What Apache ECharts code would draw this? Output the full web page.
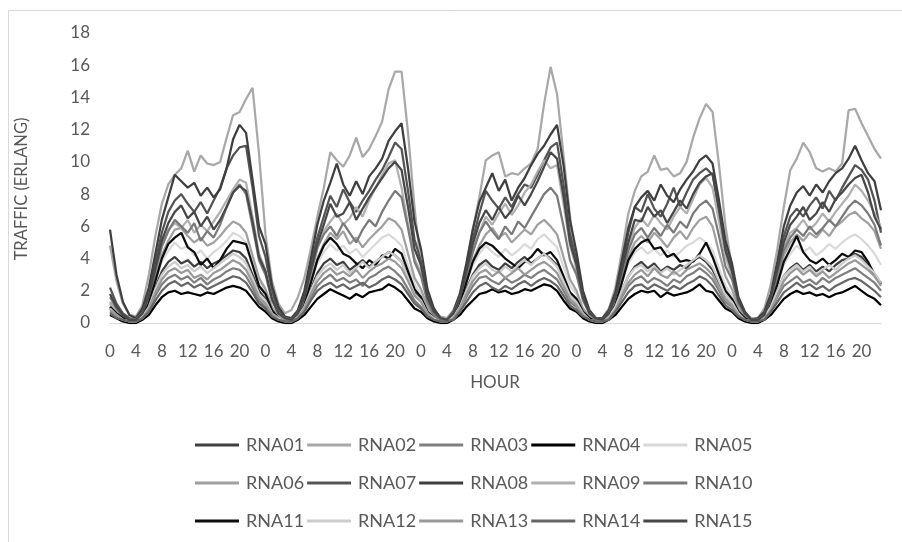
<!DOCTYPE html>
<html>
<head>
<meta charset="utf-8">
<script src="https://cdn.jsdelivr.net/npm/echarts@6/dist/echarts.min.js"></script>
<style>html,body{margin:0;padding:0;background:#fff;}#c{width:902px;height:542px;}</style>
</head>
<body>
<div id="c"></div>
<script>
// Tick labels / categories
const hourLabels = [0,1,2,3,4,5,6,7,8,9,10,11,12,13,14,15,16,17,18,19,20,21,22,23];
const days = [1,2,3,4,5];
const yTicks = [0,2,4,6,8,10,12,14,16,18];
const seriesNames = ['RNA01','RNA02','RNA03','RNA04','RNA05','RNA06','RNA07','RNA08','RNA09','RNA10','RNA11','RNA12','RNA13','RNA14','RNA15'];

// Series values (hourly, 5 days x 24 hours)
const rna01 = [
0.9,0.5,0.3,0.1,0.1,0.4,1.0,2.2,3.2,3.8,4.1,3.7,3.9,3.5,3.8,3.4,3.7,3.9,4.2,4.5,4.4,4.0,3.0,2.0,
1.5,0.7,0.3,0.1,0.1,0.3,1.0,2.1,3.1,3.7,4.0,3.6,3.8,3.3,3.6,3.9,3.5,3.8,4.1,4.4,4.2,3.8,2.9,1.9,
1.4,0.6,0.3,0.1,0.1,0.3,1.0,2.1,3.0,3.6,3.9,3.5,3.3,3.7,3.4,3.8,4.1,3.7,4.0,4.3,4.0,3.6,2.7,1.8,
1.3,0.6,0.2,0.1,0.1,0.3,0.9,2.0,2.9,3.5,3.8,3.4,3.7,3.2,3.5,3.3,3.6,3.4,3.9,4.1,3.8,3.3,2.5,1.7,
1.3,0.6,0.2,0.1,0.1,0.3,0.9,2.0,2.9,3.4,3.7,3.3,3.6,3.2,3.5,3.2,3.6,3.9,4.0,4.3,4.1,3.6,3.0,2.4];
const rna02 = [
4.8,2.6,1.2,0.5,0.4,1.1,3.0,5.4,7.4,8.6,9.2,9.6,10.7,9.4,10.4,9.9,9.8,10.0,11.5,12.9,13.1,13.9,14.6,10.5,
5.5,2.6,1.2,0.6,0.8,1.6,2.8,4.6,6.6,8.4,10.6,10.1,9.7,10.4,11.5,10.3,10.8,11.6,12.5,14.5,15.6,15.6,11.8,7.2,
3.4,1.6,0.8,0.4,0.3,0.8,1.8,3.6,5.8,7.8,10.1,10.4,10.6,9.1,9.3,9.2,9.6,9.9,10.8,13.6,15.9,14.2,10.4,6.6,
3.2,1.5,0.7,0.3,0.3,0.9,2.2,4.4,6.8,8.2,9.1,9.4,10.4,9.5,9.6,9.1,9.3,10.0,11.5,12.7,13.6,13.1,9.8,6.0,
3.4,1.5,0.6,0.3,0.3,0.9,2.4,4.6,7.2,9.5,10.2,11.2,10.6,9.6,9.4,9.6,9.4,9.9,13.2,13.3,12.4,11.6,10.8,10.2];
const rna03 = [
0.7,0.4,0.2,0.1,0.1,0.3,0.8,1.7,2.4,2.8,3.0,2.7,2.9,2.5,2.8,2.4,2.7,2.9,3.2,3.4,3.3,2.9,2.2,1.4,
1.0,0.5,0.2,0.1,0.1,0.3,0.8,1.6,2.3,2.7,3.0,2.6,2.8,2.5,2.7,2.3,2.8,3.0,3.3,3.5,3.2,2.8,2.1,1.4,
1.0,0.5,0.2,0.1,0.1,0.3,0.8,1.6,2.3,2.8,2.9,2.6,2.4,2.8,2.5,2.7,3.0,2.8,3.1,3.3,3.0,2.7,2.0,1.3,
1.0,0.4,0.2,0.1,0.1,0.3,0.8,1.6,2.3,2.7,2.9,2.5,2.8,2.6,2.3,2.7,2.5,2.9,3.1,3.4,3.1,2.7,2.0,1.3,
1.0,0.4,0.2,0.1,0.1,0.3,0.8,1.6,2.3,2.6,2.9,2.5,2.7,2.4,2.8,2.5,2.8,3.0,3.2,3.4,3.1,2.8,2.5,2.0];
const rna04 = [
0.5,0.3,0.1,0.0,0.0,0.2,0.5,1.1,1.6,1.9,2.0,1.8,1.9,1.8,1.7,1.9,1.8,2.0,2.2,2.3,2.2,2.0,1.5,1.0,
0.7,0.3,0.1,0.0,0.0,0.2,0.5,1.0,1.5,1.8,2.1,1.9,1.7,1.5,1.8,1.6,1.9,2.0,2.1,2.4,2.2,1.9,1.4,0.9,
0.7,0.3,0.1,0.0,0.0,0.2,0.5,1.0,1.4,1.8,1.9,2.1,1.9,2.0,1.8,1.9,2.1,2.0,2.2,2.4,2.3,2.0,1.4,0.9,
0.7,0.3,0.1,0.0,0.0,0.2,0.5,1.0,1.5,1.8,2.0,1.9,2.0,1.6,1.9,1.7,1.8,1.9,2.1,2.4,2.0,1.9,1.4,0.9,
0.7,0.3,0.1,0.0,0.0,0.2,0.5,1.0,1.5,1.8,2.0,1.8,1.9,1.7,1.8,1.6,1.8,1.9,2.1,2.3,2.0,1.7,1.5,1.1];
const rna05 = [
1.1,0.6,0.3,0.2,0.2,0.5,1.2,2.6,3.8,4.5,5.0,4.6,4.8,4.2,4.5,4.0,4.4,4.7,5.1,5.6,5.4,5.0,3.8,2.5,
1.9,0.9,0.4,0.2,0.2,0.5,1.2,2.5,3.7,4.4,4.9,4.5,4.8,4.3,4.6,4.1,4.5,4.9,5.3,5.5,5.2,4.8,3.6,2.4,
1.8,0.8,0.3,0.2,0.2,0.5,1.2,2.5,3.6,4.3,4.8,4.4,4.1,4.6,4.2,4.5,4.9,4.6,5.2,5.5,5.1,4.7,3.5,2.3,
1.8,0.8,0.3,0.2,0.2,0.5,1.2,2.5,3.7,4.4,4.7,4.3,4.6,4.2,4.5,4.1,4.4,4.8,5.0,5.3,5.0,4.5,3.4,2.3,
1.7,0.8,0.3,0.2,0.2,0.5,1.2,2.5,3.6,4.3,4.8,4.4,4.7,4.2,4.5,4.9,4.6,5.0,5.3,5.5,5.2,4.8,4.3,3.6];
const rna06 = [
1.3,0.7,0.3,0.2,0.2,0.5,1.3,2.8,4.2,5.1,5.8,5.9,5.4,5.0,5.3,4.8,5.0,5.4,5.9,6.3,6.1,5.6,4.2,2.8,
2.1,1.0,0.4,0.2,0.2,0.5,1.2,2.6,4.0,4.9,5.6,5.2,5.7,4.9,5.3,4.7,5.2,5.6,6.0,6.5,6.3,5.8,4.3,2.8,
2.1,1.0,0.4,0.2,0.2,0.5,1.2,2.6,3.9,4.8,5.5,5.9,5.3,5.6,5.0,5.4,5.8,5.5,6.1,6.4,6.0,5.5,4.1,2.7,
2.0,0.9,0.4,0.2,0.2,0.5,1.2,2.7,4.1,5.0,5.4,5.0,5.6,5.2,4.7,5.3,5.7,5.2,5.9,6.4,6.6,6.0,4.4,2.9,
2.1,0.9,0.4,0.2,0.2,0.5,1.3,2.8,4.2,5.0,5.5,5.1,5.6,5.3,5.8,5.4,6.0,6.3,6.7,6.9,6.5,6.2,5.7,4.6];
const rna07 = [
2.2,1.2,0.6,0.3,0.2,0.7,1.9,3.8,5.6,6.9,7.6,8.0,7.4,6.9,7.5,6.8,7.6,8.4,9.6,10.4,10.9,11.0,8.4,5.4,
4.1,1.9,0.8,0.3,0.3,0.7,1.8,3.6,5.3,6.6,7.9,7.2,8.3,7.5,6.9,7.6,8.2,8.9,9.5,10.3,11.2,10.8,8.2,5.2,
3.8,1.7,0.7,0.3,0.2,0.6,1.6,3.4,5.2,6.8,8.2,7.6,7.1,7.8,7.2,8.0,8.6,8.4,9.2,10.1,10.9,11.2,8.6,5.5,
3.9,1.8,0.7,0.3,0.2,0.7,1.7,3.5,5.6,7.2,6.9,8.0,7.1,6.6,7.4,8.4,7.2,8.1,8.9,9.3,9.6,9.2,7.1,4.6,
3.3,1.5,0.6,0.2,0.2,0.6,1.7,3.6,5.4,6.6,7.1,6.6,7.3,7.8,7.1,8.2,7.6,8.4,9.1,9.8,9.5,8.9,7.6,5.6];
const rna08 = [
5.8,3.0,1.3,0.5,0.3,0.9,2.2,4.3,6.4,7.8,9.2,8.8,8.4,8.7,7.9,8.4,7.8,8.3,9.6,11.4,12.3,11.8,8.9,6.0,
4.9,2.3,1.0,0.4,0.3,0.8,2.0,4.0,6.1,7.6,8.7,9.9,8.6,7.9,8.8,8.0,9.1,9.6,10.2,11.3,11.9,12.4,9.6,6.3,
4.6,2.1,0.9,0.3,0.2,0.7,1.8,3.7,5.8,7.5,8.4,9.3,8.2,8.9,7.6,8.4,9.0,9.8,10.5,11.0,11.7,12.3,9.8,6.4,
4.4,2.0,0.8,0.3,0.3,0.8,1.9,3.9,5.9,7.2,7.8,8.2,7.6,8.6,7.9,7.5,8.3,8.9,9.4,10.1,10.4,9.9,7.6,5.1,
3.7,1.6,0.7,0.2,0.3,0.7,1.8,3.8,6.0,7.3,8.1,8.5,7.9,8.6,8.1,8.8,9.3,9.6,10.2,11.0,10.1,9.3,8.8,7.0];
const rna09 = [
1.2,0.7,0.4,0.2,0.2,0.6,1.6,3.2,4.7,5.8,6.2,5.9,6.4,5.6,6.1,5.7,6.3,6.9,7.6,8.3,8.9,8.7,6.6,4.3,
3.3,1.5,0.6,0.3,0.2,0.6,1.5,3.0,4.6,5.7,6.3,6.8,6.1,6.5,7.2,6.6,7.6,8.4,9.2,9.9,10.1,8.4,6.1,4.0,
3.1,1.4,0.6,0.3,0.2,0.6,1.5,3.0,4.5,5.6,6.6,6.1,6.8,7.4,6.7,7.3,8.1,8.6,9.4,10.1,9.6,9.8,7.4,4.8,
3.4,1.5,0.6,0.3,0.2,0.6,1.5,3.1,4.8,5.9,6.5,6.0,6.7,6.2,5.8,6.6,7.2,6.8,7.7,8.6,9.0,8.4,6.3,4.1,
2.9,1.3,0.5,0.2,0.2,0.5,1.5,3.1,4.7,5.6,5.9,6.4,5.8,6.2,6.8,6.3,6.9,7.4,7.9,8.6,8.2,7.6,6.8,5.9];
const rna10 = [
1.6,0.9,0.4,0.2,0.2,0.6,1.5,3.2,4.8,5.7,6.4,6.0,5.6,6.2,5.1,5.7,5.3,6.1,7.2,8.1,8.6,8.0,6.0,3.9,
3.0,1.4,0.6,0.3,0.2,0.6,1.5,3.1,4.7,5.5,6.0,5.4,6.2,5.6,5.0,5.8,6.4,6.0,6.9,7.6,8.2,7.8,5.9,3.8,
2.9,1.3,0.5,0.2,0.2,0.5,1.4,2.9,4.4,5.6,6.3,5.7,5.2,6.0,5.5,6.3,5.9,6.6,7.3,8.0,8.4,7.9,6.0,3.9,
3.0,1.4,0.6,0.2,0.2,0.6,1.5,3.0,4.5,5.5,5.9,5.3,5.9,5.4,6.1,5.6,6.3,5.9,6.8,7.3,7.6,7.1,5.4,3.5,
2.7,1.2,0.5,0.2,0.2,0.5,1.4,3.0,4.5,5.3,5.8,5.4,6.0,5.5,5.9,6.4,6.0,6.6,7.2,7.6,7.3,6.8,6.1,4.8];
const rna11 = [
1.0,0.6,0.3,0.1,0.1,0.4,1.2,2.6,4.0,4.9,5.3,5.6,4.7,4.4,3.6,4.0,3.4,3.9,4.6,5.1,5.0,4.9,3.6,2.3,
1.8,0.8,0.3,0.1,0.1,0.4,1.1,2.5,3.9,4.8,5.3,4.9,4.3,4.1,3.7,3.4,3.9,3.6,4.2,4.0,4.6,4.3,3.2,2.1,
1.6,0.7,0.3,0.1,0.1,0.4,1.1,2.5,3.8,4.6,5.0,4.8,4.4,4.0,3.7,3.4,3.8,4.1,4.6,4.2,4.4,3.9,2.9,1.9,
1.5,0.7,0.3,0.1,0.1,0.4,1.1,2.5,3.9,4.6,5.0,5.2,4.6,4.7,4.1,4.3,3.8,3.9,3.8,4.3,5.0,4.1,3.0,2.0,
1.5,0.7,0.3,0.1,0.1,0.4,1.1,2.4,3.8,4.6,5.4,4.4,3.9,3.7,4.0,3.6,3.9,4.3,4.1,4.5,4.4,3.8,3.0,2.5];
const rna12 = [
0.9,0.5,0.2,0.1,0.1,0.4,1.0,2.1,3.0,3.5,3.8,3.4,3.6,3.2,3.5,3.1,3.4,3.7,4.0,4.3,4.1,3.7,2.8,1.8,
1.4,0.6,0.3,0.1,0.1,0.4,1.0,2.0,2.9,3.4,3.7,3.3,3.6,3.1,3.4,3.8,3.4,3.8,4.1,4.4,4.2,3.8,2.8,1.8,
1.4,0.6,0.3,0.1,0.1,0.4,1.0,2.0,2.9,3.4,3.7,3.3,3.1,3.5,3.2,3.6,3.9,3.6,4.0,4.3,3.9,3.5,2.6,1.7,
1.3,0.6,0.2,0.1,0.1,0.4,1.0,2.0,2.9,3.4,3.6,3.2,3.5,3.1,3.4,3.0,3.3,3.6,3.9,4.2,3.9,3.5,2.6,1.7,
1.3,0.6,0.2,0.1,0.1,0.4,1.0,2.0,2.9,3.3,3.6,3.2,3.5,3.0,3.3,3.6,3.3,3.7,4.0,4.2,3.9,3.5,3.1,2.5];
const rna13 = [
0.8,0.5,0.2,0.1,0.1,0.3,0.9,1.9,2.7,3.2,3.4,3.1,3.3,2.8,3.0,2.7,3.1,3.3,3.6,3.9,3.7,3.3,2.5,1.6,
1.2,0.6,0.2,0.1,0.1,0.3,0.9,1.8,2.6,3.1,3.4,3.0,3.2,2.9,3.3,2.8,3.2,3.5,3.7,4.0,3.8,3.4,2.6,1.7,
1.3,0.6,0.2,0.1,0.1,0.3,0.9,1.8,2.6,3.1,3.3,2.9,3.2,2.8,3.1,3.4,3.0,3.3,3.6,3.8,3.5,3.1,2.3,1.5,
1.1,0.5,0.2,0.1,0.1,0.3,0.8,1.7,2.5,3.0,3.3,2.9,3.4,3.0,2.8,3.2,2.9,3.3,3.5,3.7,3.4,3.0,2.2,1.5,
1.1,0.5,0.2,0.1,0.1,0.3,0.8,1.7,2.6,3.1,3.4,3.0,3.3,2.9,3.2,2.8,3.1,3.4,3.7,3.9,3.6,3.3,2.9,2.3];
const rna14 = [
0.6,0.3,0.2,0.1,0.1,0.3,0.7,1.4,2.0,2.4,2.6,2.3,2.5,2.2,2.4,2.1,2.3,2.5,2.7,2.9,2.8,2.5,1.9,1.2,
0.9,0.4,0.2,0.1,0.1,0.3,0.7,1.4,2.0,2.3,2.5,2.2,2.4,2.1,2.3,2.5,2.2,2.4,2.7,2.9,2.7,2.4,1.8,1.2,
0.9,0.4,0.2,0.1,0.1,0.2,0.7,1.3,1.9,2.3,2.5,2.2,2.0,2.3,2.1,2.4,2.6,2.3,2.6,2.8,2.6,2.3,1.7,1.1,
0.8,0.4,0.2,0.1,0.1,0.2,0.7,1.3,1.9,2.3,2.4,2.1,2.4,2.2,2.0,2.3,2.1,2.4,2.6,2.9,2.7,2.3,1.7,1.1,
0.8,0.4,0.2,0.1,0.1,0.2,0.7,1.3,1.9,2.2,2.5,2.2,2.4,2.1,2.3,2.0,2.3,2.5,2.7,2.8,2.6,2.3,2.0,1.6];
const rna15 = [
1.8,1.0,0.5,0.2,0.2,0.6,1.7,3.4,5.1,6.2,6.9,7.3,6.5,6.9,6.0,6.6,5.8,6.4,7.2,8.1,8.5,8.2,6.3,4.1,
3.2,1.5,0.6,0.3,0.2,0.6,1.6,3.3,4.9,6.1,7.4,6.6,6.8,7.5,6.4,7.1,7.8,8.4,9.0,9.6,10.0,9.5,7.2,4.6,
3.6,1.6,0.7,0.3,0.2,0.6,1.5,3.2,4.9,6.2,7.0,6.4,7.2,6.5,7.0,7.9,7.3,8.0,8.8,9.7,10.6,10.2,7.9,5.0,
3.6,1.6,0.6,0.3,0.2,0.6,1.6,3.3,5.0,6.4,6.3,7.2,6.6,7.0,6.2,6.9,7.6,7.1,8.0,8.7,9.1,9.3,7.0,4.5,
3.2,1.4,0.6,0.2,0.2,0.5,1.6,3.3,5.0,6.1,6.6,7.2,6.4,6.8,7.5,6.9,7.7,8.1,8.6,9.0,9.2,8.1,6.6,5.8];

const seriesValues = [rna01,rna02,rna03,rna04,rna05,rna06,rna07,rna08,rna09,rna10,rna11,rna12,rna13,rna14,rna15];
const seriesColors = ['#404040','#a8a8a8','#7f7f7f','#000000','#d9d9d9','#a0a0a0','#545454','#3f3f3f','#b0b0b0','#7a7a7a','#0d0d0d','#cccccc','#999999','#666666','#474747'];

const categories = [];
days.forEach(d => hourLabels.forEach(h => categories.push('D' + d + '-' + h)));

const FONT = 'Lato';
const chart = echarts.init(document.getElementById('c'), null, {renderer: 'canvas'});

const legendRow = (names, top) => ({
  data: names, left: 190, top: top, orient: 'horizontal',
  icon: 'rect', itemWidth: 44, itemHeight: 3, itemGap: 3,
  selectedMode: false,
  textStyle: {color: '#595959', fontSize: 18, fontFamily: FONT, padding: [0, 0, 0, 2]}
});

chart.setOption({
  animation: false,
  backgroundColor: '#ffffff',
  grid: {left: 110, right: 21, top: 33, bottom: 219, containLabel: false},
  xAxis: {
    type: 'category', data: categories, boundaryGap: false,
    axisLine: {show: true, lineStyle: {color: '#d9d9d9'}},
    axisTick: {show: false},
    axisLabel: {interval: 3, margin: 20, color: '#595959', fontSize: 17, fontFamily: FONT,
      formatter: (v, i) => String(hourLabels[i % 24])},
    splitLine: {show: false}
  },
  yAxis: {
    type: 'value', min: yTicks[0], max: yTicks[yTicks.length - 1], interval: 2,
    axisLine: {show: false}, axisTick: {show: false}, splitLine: {show: false},
    axisLabel: {margin: 20, color: '#595959', fontSize: 17, fontFamily: FONT}
  },
  legend: [
    legendRow(seriesNames.slice(0, 5), 431),
    legendRow(seriesNames.slice(5, 10), 469),
    legendRow(seriesNames.slice(10, 15), 507)
  ],
  graphic: [
    {type: 'rect', shape: {x: 8.5, y: 10.5, width: 1000, height: 1000}, style: {fill: 'none', stroke: '#d9d9d9', lineWidth: 1}, silent: true},
    {type: 'text', x: 22, y: 189, rotation: Math.PI / 2,
      style: {text: 'TRAFFIC (ERLANG)', fill: '#595959', font: '16.5px ' + FONT, textAlign: 'center', textVerticalAlign: 'middle'}},
    {type: 'text', x: 495, y: 383,
      style: {text: 'HOUR', fill: '#595959', font: '17px ' + FONT, textAlign: 'center', textVerticalAlign: 'middle'}}
  ],
  series: seriesNames.map((name, i) => ({
    name: name, type: 'line', data: seriesValues[i],
    showSymbol: false, symbol: 'none',
    lineStyle: {color: seriesColors[i], width: 2.25},
    itemStyle: {color: seriesColors[i]},
    emphasis: {disabled: true}
  }))
});
</script>
</body>
</html>
